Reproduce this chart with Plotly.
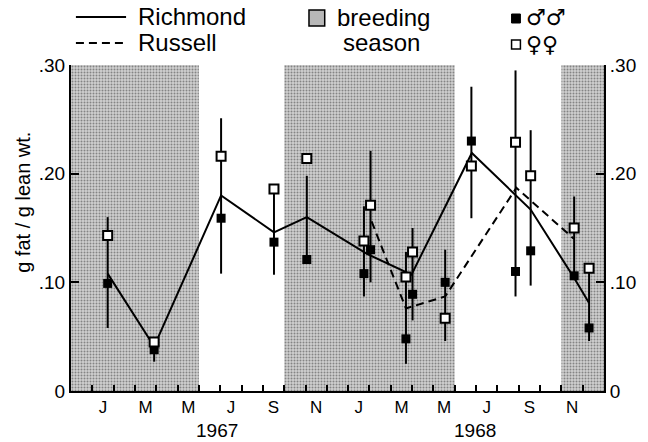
import plotly.graph_objects as go

# ---- data (x = months since 1 Jan 1967) ----
month_centers = [0.5, 2.5, 4.5, 6.5, 8.5, 10.5, 12.5, 14.5, 16.5, 18.5, 20.5, 22.5]
month_labels = ["J", "M", "M", "J", "S", "N", "J", "M", "M", "J", "S", "N"]
month_bounds = list(range(0, 24))
year_pos = [5.86, 17.94]
year_labels = ["1967", "1968"]

breed_start = [-1, 9, 22]
breed_end = [5, 17, 24]

sample_x = [0.72, 2.9, 6.04, 8.52, 10.06, 12.74, 13.05, 14.71, 15.02, 16.55, 17.78, 19.85, 20.56, 22.6, 23.3]
female = [0.143, 0.045, 0.216, 0.186, 0.214, 0.138, 0.171, 0.105, 0.128, 0.067, 0.207, 0.229, 0.198, 0.150, 0.113]
male = [0.099, 0.038, 0.159, 0.137, 0.121, 0.108, 0.130, 0.048, 0.089, 0.100, 0.230, 0.110, 0.129, 0.106, 0.058]
bar_lo = [0.058, 0.027, 0.108, 0.107, 0.121, 0.087, 0.100, 0.025, 0.065, 0.046, 0.159, 0.087, 0.097, 0.106, 0.046]
bar_hi = [0.160, 0.047, 0.251, 0.186, 0.198, 0.170, 0.221, 0.128, 0.150, 0.130, 0.280, 0.295, 0.240, 0.179, 0.113]

richmond_x = [0.72, 2.9, 6.04, 8.52, 10.06, 12.9, 14.97, 17.8, 20.56, 22.6, 23.3]
richmond_y = [0.108, 0.041, 0.180, 0.146, 0.160, 0.126, 0.107, 0.219, 0.167, 0.104, 0.081]
russell_x = [13.1, 14.71, 16.55, 19.89, 22.59]
russell_y = [0.156, 0.076, 0.087, 0.187, 0.140]

y_ticks = [0, 0.10, 0.20, 0.30]
y_ticktext = ["0", ".10", ".20", ".30"]

FONT = "Liberation Sans"
W, H = 648, 442
L, R, T, B = 71, 35, 65, 51  # plot area px margins

fig = go.Figure()

# breeding season shading
fig.add_trace(go.Bar(
    x=[(s + e) / 2 for s, e in zip(breed_start, breed_end)],
    y=[0.30] * len(breed_start),
    width=[e - s for s, e in zip(breed_start, breed_end)],
    marker=dict(color="#bdbdbd", line=dict(width=0),
                pattern=dict(shape=".", fgcolor="#3a3a3a", bgcolor="#cfcfcf", size=3, solidity=0.35)),
    showlegend=False, hoverinfo="skip",
))

# error ranges
ex, ey = [], []
for x, lo, hi in zip(sample_x, bar_lo, bar_hi):
    ex += [x, x, None]
    ey += [lo, hi, None]
fig.add_trace(go.Scatter(x=ex, y=ey, mode="lines", line=dict(color="black", width=2),
                         showlegend=False, hoverinfo="skip"))

fig.add_trace(go.Scatter(x=richmond_x, y=richmond_y, mode="lines",
                         line=dict(color="black", width=2), showlegend=False))
fig.add_trace(go.Scatter(x=russell_x, y=russell_y, mode="lines",
                         line=dict(color="black", width=2, dash="8px,5px"), showlegend=False))

fig.add_trace(go.Scatter(x=sample_x, y=male, mode="markers",
                         marker=dict(symbol="square", size=9, color="black"), showlegend=False))
fig.add_trace(go.Scatter(x=sample_x, y=female, mode="markers",
                         marker=dict(symbol="square", size=9, color="white",
                                     line=dict(color="black", width=2)), showlegend=False))

# dummy trace for right axis
fig.add_trace(go.Scatter(x=[None], y=[None], yaxis="y2", showlegend=False))

axis_font = dict(family=FONT, size=19, color="black")
month_font = dict(family=FONT, size=17, color="black")
fig.update_layout(
    width=W, height=H,
    margin=dict(l=L, r=R, t=T, b=B, pad=0),
    paper_bgcolor="white", plot_bgcolor="white",
    barmode="overlay",
    xaxis=dict(range=[-1, 24], showline=True, linecolor="black", linewidth=2,
               tickmode="array", tickvals=month_centers, ticktext=month_labels,
               ticks="", tickfont=month_font, showgrid=False, zeroline=False,
               ticklabelstandoff=0,
               minor=dict(tickmode="array", tickvals=month_bounds, ticks="inside",
                          ticklen=6, tickwidth=1.5, tickcolor="black", showgrid=False)),
    yaxis=dict(range=[0, 0.30], showline=True, linecolor="black", linewidth=2,
               tickmode="array", tickvals=y_ticks, ticktext=y_ticktext,
               ticks="inside", ticklen=8, tickwidth=2, tickcolor="black",
               tickfont=axis_font, showgrid=False, zeroline=False),
    yaxis2=dict(range=[0, 0.30], overlaying="y", side="right", showline=True,
                linecolor="black", linewidth=2,
                tickmode="array", tickvals=y_ticks, ticktext=y_ticktext,
                ticks="inside", ticklen=8, tickwidth=2, tickcolor="black",
                tickfont=axis_font, showgrid=False, zeroline=False),
)

pw, ph = W - L - R, H - T - B
def PX(px):
    return (px - L) / pw
def PY(py):
    return (H - B - py) / ph

ann = []
# y-axis title
ann.append(dict(text="g fat / g lean wt.", x=PX(22), y=PY(202), xref="paper", yref="paper",
                textangle=-90, showarrow=False, xanchor="center", yanchor="middle",
                font=dict(family=FONT, size=20, color="black")))
# year labels
for xp, lab in zip(year_pos, year_labels):
    ann.append(dict(text=lab, x=xp, y=PY(442), xref="x", yref="paper", showarrow=False,
                    xanchor="center", yanchor="bottom", borderpad=0,
                    font=dict(family=FONT, size=19, color="black")))
# legend texts
leg_font = dict(family=FONT, size=24, color="black")
ann.append(dict(text="Richmond", x=PX(137), y=PY(17), xref="paper", yref="paper", showarrow=False,
                xanchor="left", yanchor="middle", font=leg_font))
ann.append(dict(text="Russell", x=PX(137), y=PY(43), xref="paper", yref="paper", showarrow=False,
                xanchor="left", yanchor="middle", font=leg_font))
ann.append(dict(text="breeding", x=PX(389), y=PY(18), xref="paper", yref="paper", showarrow=False,
                xanchor="center", yanchor="middle", font=leg_font))
ann.append(dict(text="season", x=PX(387), y=PY(43), xref="paper", yref="paper", showarrow=False,
                xanchor="center", yanchor="middle", font=leg_font))
sym_font = dict(family="DejaVu Sans", size=22, color="black")
ann.append(dict(text="♂♂", x=PX(532), y=PY(18), xref="paper", yref="paper", showarrow=False,
                xanchor="left", yanchor="middle", font=sym_font))
ann.append(dict(text="♀♀", x=PX(532), y=PY(45), xref="paper", yref="paper", showarrow=False,
                xanchor="left", yanchor="middle", font=sym_font))
fig.update_layout(annotations=ann)

shapes = []
shapes.append(dict(type="line", xref="paper", yref="paper", x0=PX(76), x1=PX(127), y0=PY(17), y1=PY(17),
                   line=dict(color="black", width=2)))
shapes.append(dict(type="line", xref="paper", yref="paper", x0=PX(76), x1=PX(127), y0=PY(43), y1=PY(43),
                   line=dict(color="black", width=2, dash="8px,5px")))
shapes.append(dict(type="rect", xref="paper", yref="paper", x0=PX(313), x1=PX(329), y0=PY(26), y1=PY(10),
                   line=dict(color="black", width=1.5), fillcolor="#b8b8b8"))
shapes.append(dict(type="rect", xref="paper", yref="paper", x0=PX(519), x1=PX(528), y0=PY(23), y1=PY(14),
                   line=dict(color="black", width=1), fillcolor="black"))
shapes.append(dict(type="rect", xref="paper", yref="paper", x0=PX(519), x1=PX(528), y0=PY(49), y1=PY(40),
                   line=dict(color="black", width=1.5), fillcolor="white"))
fig.update_layout(shapes=shapes)

fig.write_html("out.html")
